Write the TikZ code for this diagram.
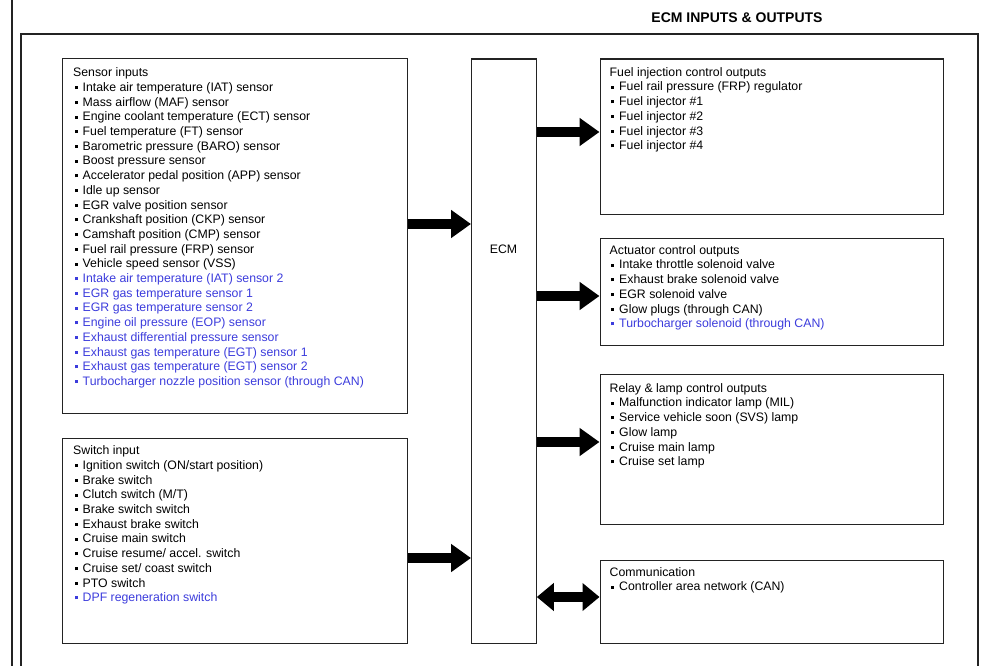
\documentclass[tikz,border=0pt]{standalone}
\usepackage{fontspec}
\setmainfont{Liberation Sans}
\usetikzlibrary{arrows.meta}
\definecolor{itemblue}{RGB}{60,60,220}
\definecolor{edge}{RGB}{35,35,35}
% square list marker followed by the gap before the item text
\newcommand\bl{\hspace*{1.5pt}\rule[2.3pt]{3pt}{3pt}\hspace{5pt}}
\newcommand\blueitem[1]{\textcolor{itemblue}{\bl #1}}
\newcommand\firstline{\rule{0pt}{10pt}}
\begin{document}
\begin{tikzpicture}[x=1pt,y=-1pt,
  box/.style={draw=edge, line width=1.3pt, inner sep=0pt, anchor=north west},
  txt/.style={anchor=north west, inner sep=0pt, align=left,
              font=\fontsize{12.3}{14.7}\selectfont},
  bigarrow/.style={line width=10.5pt, -{Triangle[length=20pt,width=27pt]}},
  twoway/.style={line width=10.5pt,
                 {Triangle[length=17pt,width=27pt]}-{Triangle[length=17pt,width=27pt]}}]
\useasboundingbox (0,0) rectangle (985,666);

% page margin rule and outer frame
\draw[edge, line width=1.3pt] (12,0) -- (12,666);
\draw[edge, line width=1.3pt] (21,666) |- (978,34) -- (978,666);

% heading
\node[font=\bfseries\fontsize{14}{16}\selectfont, inner sep=0pt] (heading) at (737,18)
  {ECM INPUTS \& OUTPUTS};

% input blocks
\node[box, minimum width=344.5pt, minimum height=354.5pt] (sensor) at (62,58) {};
\node[box, minimum width=344.5pt, minimum height=205.5pt] (switch) at (62,437.5) {};
% controller
\node[box, minimum width=64.5pt, minimum height=584.5pt] (ecm) at (471,58.5) {};
\node[font=\fontsize{12.3}{14.7}\selectfont, inner sep=0pt] (ecmlabel) at (503.5,249) {ECM};
% output blocks
\node[box, minimum width=343.5pt, minimum height=155pt] (fuel) at (599.5,58.5) {};
\node[box, minimum width=343.5pt, minimum height=107.5pt] (act) at (599.5,237.5) {};
\node[box, minimum width=343.5pt, minimum height=150pt] (relay) at (599.5,374) {};
\node[box, minimum width=343.5pt, minimum height=83pt] (comm) at (599.5,560) {};

% block contents
\node[txt] (sensortxt) at (73,66.5) {\firstline Sensor inputs\\
\bl Intake air temperature (IAT) sensor\\
\bl Mass airflow (MAF) sensor\\
\bl Engine coolant temperature (ECT) sensor\\
\bl Fuel temperature (FT) sensor\\
\bl Barometric pressure (BARO) sensor\\
\bl Boost pressure sensor\\
\bl Accelerator pedal position (APP) sensor\\
\bl Idle up sensor\\
\bl EGR valve position sensor\\
\bl Crankshaft position (CKP) sensor\\
\bl Camshaft position (CMP) sensor\\
\bl Fuel rail pressure (FRP) sensor\\
\bl Vehicle speed sensor (VSS)\\
\blueitem{Intake air temperature (IAT) sensor 2}\\
\blueitem{EGR gas temperature sensor 1}\\
\blueitem{EGR gas temperature sensor 2}\\
\blueitem{Engine oil pressure (EOP) sensor}\\
\blueitem{Exhaust differential pressure sensor}\\
\blueitem{Exhaust gas temperature (EGT) sensor 1}\\
\blueitem{Exhaust gas temperature (EGT) sensor 2}\\
\blueitem{Turbocharger nozzle position sensor (through CAN)}};

\node[txt] (switchtxt) at (73,444.5) {\firstline Switch input\\
\bl Ignition switch (ON/start position)\\
\bl Brake switch\\
\bl Clutch switch (M/T)\\
\bl Brake switch switch\\
\bl Exhaust brake switch\\
\bl Cruise main switch\\
\bl Cruise resume/ accel. switch\\
\bl Cruise set/ coast switch\\
\bl PTO switch\\
\blueitem{DPF regeneration switch}};

\node[txt] (fueltxt) at (609.5,66) {\firstline Fuel injection control outputs\\
\bl Fuel rail pressure (FRP) regulator\\
\bl Fuel injector \#1\\
\bl Fuel injector \#2\\
\bl Fuel injector \#3\\
\bl Fuel injector \#4};

\node[txt] (acttxt) at (609.5,244) {\firstline Actuator control outputs\\
\bl Intake throttle solenoid valve\\
\bl Exhaust brake solenoid valve\\
\bl EGR solenoid valve\\
\bl Glow plugs (through CAN)\\
\blueitem{Turbocharger solenoid (through CAN)}};

\node[txt] (relaytxt) at (609.5,382) {\firstline Relay \& lamp control outputs\\
\bl Malfunction indicator lamp (MIL)\\
\bl Service vehicle soon (SVS) lamp\\
\bl Glow lamp\\
\bl Cruise main lamp\\
\bl Cruise set lamp};

\node[txt] (commtxt) at (609.5,566) {\firstline Communication\\
\bl Controller area network (CAN)};

% signal flow levels
\coordinate (lvsensor) at (0,224);
\coordinate (lvswitch) at (0,558);
\coordinate (lvfuel) at (0,132);
\coordinate (lvact) at (0,296);
\coordinate (lvrelay) at (0,442);
\coordinate (lvcomm) at (0,597);

% signal flow
\draw[bigarrow] (sensor.east |- lvsensor) -- (ecm.west |- lvsensor);
\draw[bigarrow] (switch.east |- lvswitch) -- (ecm.west |- lvswitch);
\draw[bigarrow] (ecm.east |- lvfuel) -- (fuel.west |- lvfuel);
\draw[bigarrow] (ecm.east |- lvact) -- (act.west |- lvact);
\draw[bigarrow] (ecm.east |- lvrelay) -- (relay.west |- lvrelay);
\draw[twoway] (ecm.east |- lvcomm) -- (comm.west |- lvcomm);
\end{tikzpicture}
\end{document}
